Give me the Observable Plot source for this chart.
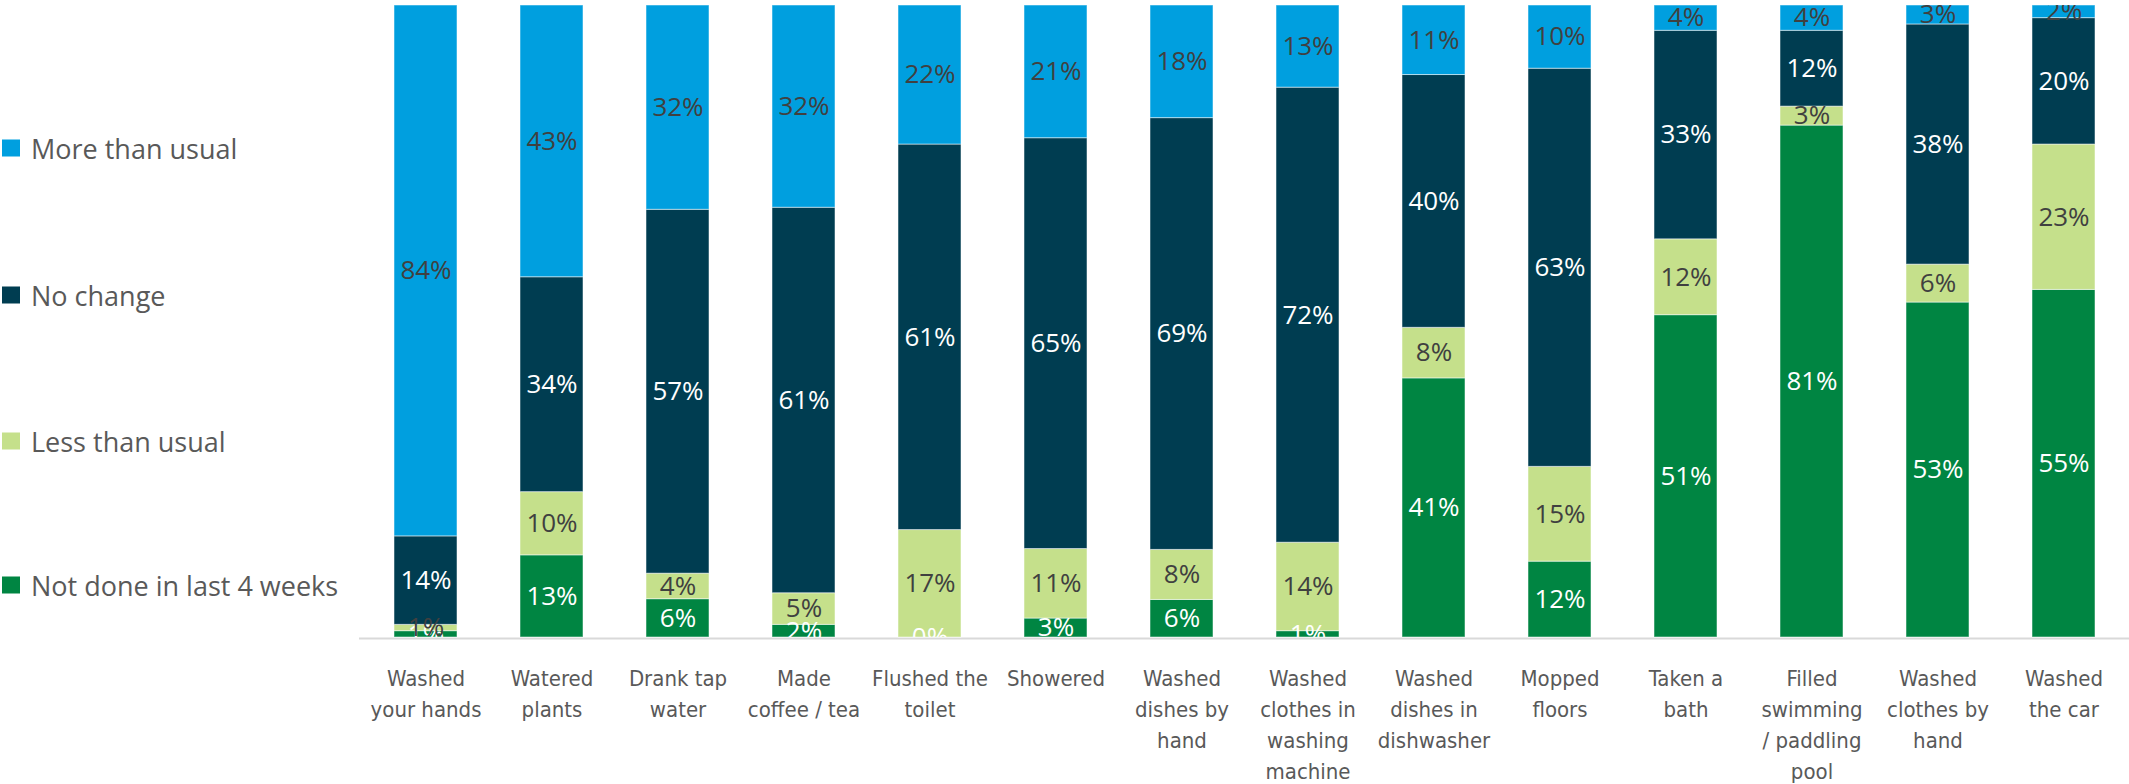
<!DOCTYPE html>
<html><head><meta charset="utf-8">
<script src="https://cdn.jsdelivr.net/npm/d3@7"></script>
<script src="https://cdn.jsdelivr.net/npm/@observablehq/plot@0.6"></script>
<style>
body{margin:0;background:#fff;}
#wrap{position:relative;width:2129px;height:784px;overflow:hidden;}
#legend{position:absolute;left:0;top:0;font-family:"Open Sans",sans-serif;font-size:27px;color:#595959;}
.item{position:absolute;left:2px;display:flex;align-items:center;white-space:nowrap;transform:translateY(-50%);}
.sw{width:18px;height:17px;margin-right:11px;flex:none;}
#chart{position:absolute;left:0;top:0;}
</style></head>
<body><div id="wrap"><div id="chart"></div><div id="legend"></div></div>
<script>
const categories = ["Washed your hands","Watered plants","Drank tap water","Made coffee / tea","Flushed the toilet","Showered","Washed dishes by hand","Washed clothes in washing machine","Washed dishes in dishwasher","Mopped floors","Taken a bath","Filled swimming / paddling pool","Washed clothes by hand","Washed the car"];
const tickLabels = ["Washed\nyour hands","Watered\nplants","Drank tap\nwater","Made\ncoffee / tea","Flushed the\ntoilet","Showered","Washed\ndishes by\nhand","Washed\nclothes in\nwashing\nmachine","Washed\ndishes in\ndishwasher","Mopped\nfloors","Taken a\nbath","Filled\nswimming\n/ paddling\npool","Washed\nclothes by\nhand","Washed\nthe car"];
const series = ["Not done in last 4 weeks","Less than usual","No change","More than usual"];
const notDone  = [1,13,6,2,0,3,6,1,41,12,51,81,53,55];
const lessThan = [1,10,4,5,17,11,8,14,8,15,12,3,6,23];
const noChange = [14,34,57,61,61,65,69,72,40,63,33,12,38,20];
const moreThan = [84,43,32,32,22,21,18,13,11,10,4,4,3,2];
const seriesColors = ["#008542","#c5e08b","#003d51","#009fdf"];
const labelColors = ["#ffffff","#404040","#ffffff","#404040"];

const valuesBySeries = [notDone, lessThan, noChange, moreThan];
const data = [];
series.forEach((s, si) => categories.forEach((c, ci) => data.push({category: c, series: s, value: valuesBySeries[si][ci], si})));
const tickMap = new Map(categories.map((c, i) => [c, tickLabels[i]]));

const stackOpts = {x: "category", y: "value", z: "series", order: series, offset: "normalize"};

const chart = Plot.plot({
  width: 2129,
  height: 784,
  marginLeft: 359,
  marginRight: 0,
  marginTop: 5,
  marginBottom: 147,
  style: {background: "transparent"},
  x: {domain: categories, paddingInner: 0.503, paddingOuter: 0.235, label: null},
  y: {domain: [0, 1], axis: null},
  color: {type: "identity"},
  marks: [
    Plot.ruleY([0], {stroke: "#d9d9d9", strokeWidth: 2, dy: 1}),
    Plot.barY(data, Plot.stackY({...stackOpts, fill: d => seriesColors[d.si], stroke: "#ffffff", strokeWidth: 1, strokeOpacity: 0.5})),
    Plot.text(data, Plot.stackY({...stackOpts, text: d => d.value + "%", fill: d => labelColors[d.si], fontSize: 26, fontFamily: "Open Sans", clip: true})),
    Plot.axisX({tickSize: 0, tickPadding: 26, tickFormat: d => tickMap.get(d), fontSize: 22, lineHeight: 1.41, fill: "#595959", fontFamily: "'Liberation Sans Narrow', 'DejaVu Sans Condensed', 'Open Sans', sans-serif", label: null})
  ]
});
document.getElementById("chart").appendChild(chart);

const legendY = [148, 295, 441, 585];
const legend = document.getElementById("legend");
[3, 2, 1, 0].forEach((si, k) => {
  const it = document.createElement("div");
  it.className = "item";
  it.style.top = legendY[k] + "px";
  const sw = document.createElement("div");
  sw.className = "sw";
  sw.style.background = seriesColors[si];
  const tx = document.createElement("span");
  tx.textContent = series[si];
  it.appendChild(sw); it.appendChild(tx);
  legend.appendChild(it);
});
</script>
</body></html>
